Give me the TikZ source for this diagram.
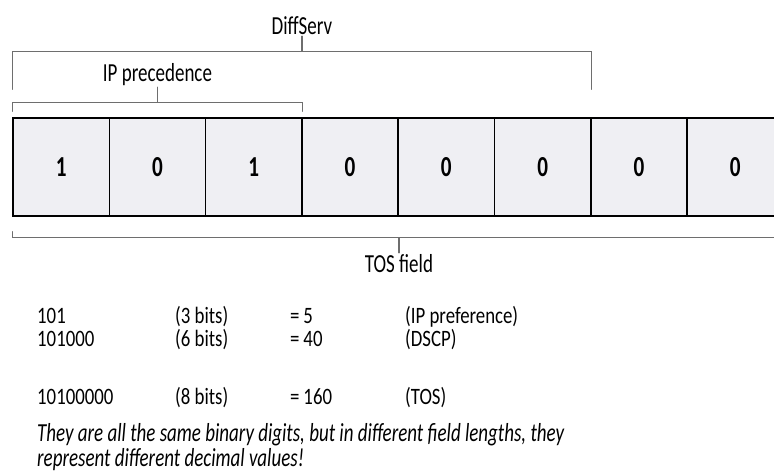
\documentclass[tikz,border=0pt]{standalone}
\usepackage{fontspec}
\setmainfont[FakeStretch=0.73]{Carlito}
\newfontfamily\rowfont[FakeStretch=0.8]{Carlito}
\usepackage{tikz}
\usetikzlibrary{calc}
\usetikzlibrary{positioning}
\definecolor{cellfill}{HTML}{EFEFF3}
\definecolor{brkgray}{HTML}{6E6E6E}

\begin{document}
\begin{tikzpicture}[x=1pt,y=-1pt,node distance=14pt]
	\tikzset{
		bitbox/.style={draw=black,line width=1.6pt,fill=cellfill,minimum width=96.3pt,minimum height=98pt,inner sep=0pt,font=\fontsize{29}{29}\selectfont\bfseries},
		brk/.style={draw=brkgray,line width=1.3pt,line cap=round},
		lbl/.style={inner sep=1pt,font=\fontsize{26}{26}\selectfont},
		row/.style={anchor=base west,inner sep=0pt,align=left,font=\rowfont\fontsize{23.5}{23}\selectfont},
	}
	\useasboundingbox (0,0) rectangle (774,473);
	\clip (0,0) rectangle (774,473);
	
	% the eight bits of the TOS byte
	\foreach \v [count=\i] in {1,0,1,0,0,0,0,0}
		\node[bitbox] (b\i) at ({13+96.3*(\i-0.5)},167) {\v};
	
	% DiffServ
	\coordinate (dsL) at ([yshift=66pt]b1.north west);
	\coordinate (dsR) at ([yshift=66pt]b6.north east);
	\coordinate (dsM) at ($(dsL)!0.5!(dsR)$);
	\draw[brk] ([yshift=28pt]b1.north west) -- (dsL) -- (dsR) -- ([yshift=28pt]b6.north east);
	\node[lbl,above=15pt of dsM] (ds) {DiffServ};
	\draw[brk] (dsM) -- (ds.south);
	
	% IP precedence
	\coordinate (ipL) at ([yshift=15pt]b1.north west);
	\coordinate (ipR) at ([yshift=15pt]b3.north east);
	\coordinate (ipM) at ($(ipL)!0.5!(ipR)$);
	\draw[brk] ([yshift=6pt]b1.north west) -- (ipL) -- (ipR) -- ([yshift=6pt]b3.north east);
	\node[lbl,above=15pt of ipM] (ip) {IP precedence};
	\draw[brk] (ipM) -- (ip.south);
	
	% TOS field
	\coordinate (tsL) at ([yshift=-21pt]b1.south west);
	\coordinate (tsR) at ([yshift=-21pt]b8.south east);
	\coordinate (tsM) at ([yshift=-21pt]b4.south east);
	\draw[brk] ([yshift=-15pt]b1.south west) -- (tsL) -- (tsR) -- ([yshift=-15pt]b8.south east);
	\node[lbl,below=15pt of tsM] (ts) {TOS field};
	\draw[brk] (tsM) -- (ts.north);
	
	% values
	\node[row] (r1a) at (37,346) {101\\101000};
	\node[row] (r1b) at (175,346) {(3 bits)\\(6 bits)};
	\node[row] (r1c) at (290,346) {=\,5\\=\,40};
	\node[row] (r1d) at (405,346) {(IP preference)\\(DSCP)};
	\node[row] (r3a) at (37,404) {10100000};
	\node[row] (r3b) at (175,404) {(8 bits)};
	\node[row] (r3c) at (290,404) {=\,160};
	\node[row] (r3d) at (405,404) {(TOS)};
	\node[anchor=north west,inner sep=0pt,align=left,font=\fontsize{26}{25}\selectfont\itshape] (note) at (37,423)
		{They are all the same binary digits, but in different field lengths, they\\represent different decimal values!};
\end{tikzpicture}
\end{document}
